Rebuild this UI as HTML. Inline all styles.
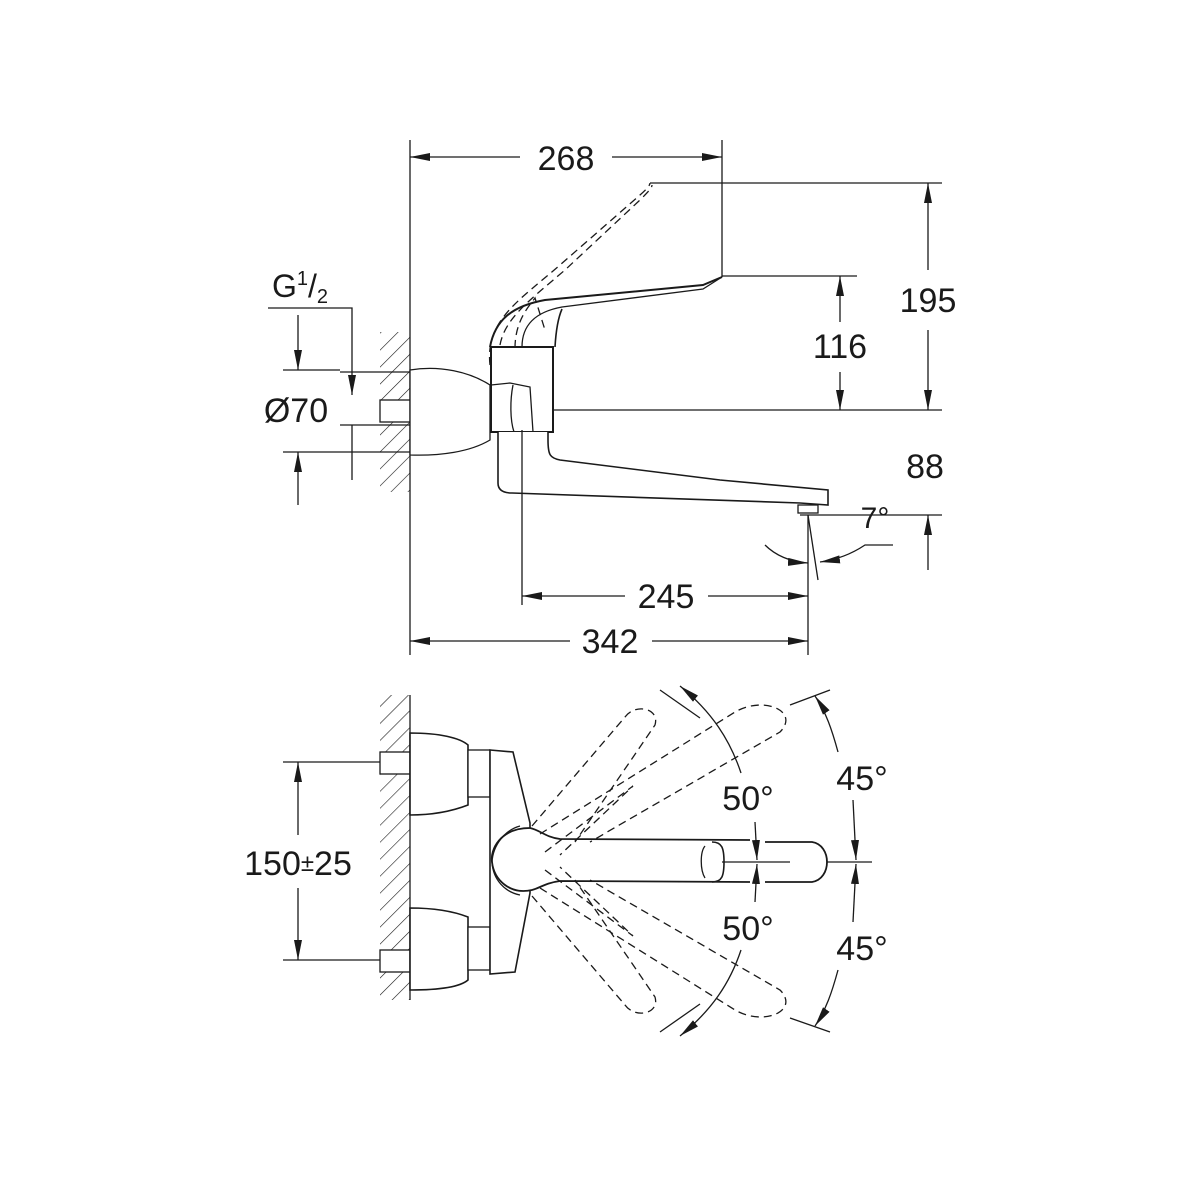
<!DOCTYPE html>
<html><head><style>html,body{margin:0;padding:0;background:#fff}svg{display:block}</style></head>
<body>
<svg width="1200" height="1200" viewBox="0 0 1200 1200" xmlns="http://www.w3.org/2000/svg" font-family="Liberation Sans, Arial, sans-serif" fill="none" stroke="#1a1a1a" stroke-width="1.3">
<defs>
<marker id="a" viewBox="0 0 20 8" refX="20" refY="4" markerWidth="20" markerHeight="8" orient="auto-start-reverse" markerUnits="userSpaceOnUse"><path d="M0,0 L20,4 L0,8 Z" fill="#1a1a1a" stroke="none"/></marker>
<pattern id="h" width="12" height="12" patternUnits="userSpaceOnUse" patternTransform="rotate(45)"><line x1="0" y1="0" x2="0" y2="12" stroke="#1a1a1a" stroke-width="1.2"/></pattern>
</defs>
<!-- TOP VIEW -->
<rect x="380" y="332" width="30" height="160" fill="url(#h)" stroke="none"/>
<line x1="410" y1="140" x2="410" y2="655"/>
<line x1="410" y1="157" x2="520" y2="157" marker-start="url(#a)"/>
<line x1="612" y1="157" x2="722" y2="157" marker-end="url(#a)"/>
<line x1="722" y1="140" x2="722" y2="277"/>
<line x1="650" y1="183" x2="942" y2="183"/>
<line x1="722" y1="276" x2="857" y2="276"/>
<line x1="410" y1="410" x2="942" y2="410"/>
<line x1="800" y1="515" x2="942" y2="515"/>
<line x1="928" y1="183" x2="928" y2="270" marker-start="url(#a)"/>
<line x1="928" y1="330" x2="928" y2="410" marker-end="url(#a)"/>
<line x1="840" y1="276" x2="840" y2="322" marker-start="url(#a)"/>
<line x1="840" y1="372" x2="840" y2="410" marker-end="url(#a)"/>
<line x1="928" y1="570" x2="928" y2="515" marker-end="url(#a)"/>
<polyline points="268,308 352,308 352,395" marker-end="url(#a)"/>
<line x1="340" y1="372" x2="410" y2="372"/>
<line x1="340" y1="425" x2="410" y2="425"/>
<line x1="352" y1="425" x2="352" y2="480"/>
<line x1="283" y1="370" x2="340" y2="370"/>
<line x1="283" y1="452" x2="410" y2="452"/>
<line x1="298" y1="315" x2="298" y2="370" marker-end="url(#a)"/>
<line x1="298" y1="505" x2="298" y2="452" marker-end="url(#a)"/>
<rect x="380" y="400" width="30" height="22" fill="#fff"/>
<path d="M410,370 C440,365 470,372 490,385 L490,440 C470,452 440,456 410,455 Z" fill="#fff"/>
<path d="M490,365 C485,320 520,300 560,265 L640,195 C648,188 650,185 650,183" stroke-dasharray="8,5"/>
<path d="M500,345 C505,318 530,300 565,270 L640,200 C648,192 652,188 652,185" stroke-dasharray="8,5"/>
<path d="M515,348 C515,320 530,305 535,298 L545,330" stroke-dasharray="8,5"/>
<path d="M490,347 C495,320 512,306 545,300 L703,285 L722,277" stroke-width="2"/>
<path d="M522,347 C522,325 535,312 562,307 L703,289 L722,277"/>
<path d="M562,309 C558,318 556,330 555,347" stroke-width="1.6"/>
<rect x="491" y="347" width="62" height="85" fill="#fff" stroke-width="2"/>
<path d="M491,385 L510,383 L530,387 L533,432"/>
<path d="M513,385 C510,400 510,420 514,432"/>
<path d="M498,432 L498,483 C498,490 503,493 512,493 L800,503 L828,505 L828,490 L720,480 L560,460 C550,458 548,455 548,440 L548,432" fill="#fff" stroke-width="1.6"/>
<rect x="798" y="505" width="20" height="8"/>
<line x1="522" y1="430" x2="522" y2="605"/>
<line x1="808" y1="515" x2="808" y2="655"/>
<line x1="808" y1="515" x2="818" y2="580"/>
<path d="M765,545 C775,555 790,562 808,563" marker-end="url(#a)"/>
<path d="M893,545 L865,545 C850,555 835,560 820,562" marker-end="url(#a)"/>
<line x1="522" y1="596" x2="625" y2="596" marker-start="url(#a)"/>
<line x1="708" y1="596" x2="808" y2="596" marker-end="url(#a)"/>
<line x1="410" y1="641" x2="570" y2="641" marker-start="url(#a)"/>
<line x1="652" y1="641" x2="808" y2="641" marker-end="url(#a)"/>
<g fill="#1a1a1a" stroke="none" font-size="34" text-anchor="middle">
<text x="566" y="170">268</text>
<text x="928" y="312">195</text>
<text x="840" y="358">116</text>
<text x="925" y="478">88</text>
<text x="875" y="528" font-size="30">7°</text>
<text x="666" y="608">245</text>
<text x="610" y="653">342</text>
<text x="296" y="422">Ø70</text>
<text x="300" y="297" font-size="32">G<tspan font-size="20" dy="-12">1</tspan><tspan dy="12">/</tspan><tspan font-size="20" dy="6">2</tspan></text>
</g>
<!-- BOTTOM VIEW -->
<rect x="380" y="695" width="30" height="305" fill="url(#h)" stroke="none"/>
<line x1="410" y1="695" x2="410" y2="1000"/>
<line x1="283" y1="762" x2="380" y2="762"/>
<line x1="283" y1="960" x2="380" y2="960"/>
<line x1="298" y1="762" x2="298" y2="835" marker-start="url(#a)"/>
<line x1="298" y1="888" x2="298" y2="960" marker-end="url(#a)"/>
<rect x="380" y="752" width="30" height="22" fill="#fff"/>
<rect x="380" y="950" width="30" height="22" fill="#fff"/>
<path d="M410,733 C440,733 460,738 468,745 L468,805 C450,812 430,815 410,815 Z" fill="#fff" stroke-width="1.6"/>
<path d="M410,908 C430,908 450,910 468,917 L468,980 C460,987 440,990 410,990 Z" fill="#fff" stroke-width="1.6"/>
<rect x="468" y="750" width="22" height="47" fill="#fff"/>
<rect x="468" y="927" width="22" height="43" fill="#fff"/>
<path d="M490,750 L513,752 L530,823 L530,893 L515,972 L490,974 Z" fill="#fff" stroke-width="1.6"/>
<!-- handle -->
<path d="M530,828 C500,828 490,850 492,862 C494,880 510,895 532,890 C540,888 545,883 560,881 L750,882 L750,840 L560,839 C545,837 540,830 530,828 Z" fill="#fff" stroke="none"/>
<path d="M530,828 C500,828 490,850 492,862 C494,880 510,895 532,890 C540,888 545,883 560,881 L750,882" stroke-width="1.8"/>
<path d="M530,828 C540,830 545,837 560,839 L750,840" stroke-width="1.8"/>
<path d="M520,826 C505,830 493,845 492,862 C493,880 505,892 520,895"/>
<path d="M712,842 C722,842 724,848 724,862 C724,876 722,882 712,882" stroke-width="1.6"/>
<path d="M705,846 C700,852 700,870 705,878"/>
<path d="M765,842 L812,842 C832,845 832,879 812,882 L765,882" stroke-width="1.8"/>
<line x1="722" y1="862" x2="790" y2="862"/>
<line x1="827" y1="862" x2="872" y2="862"/>
<g stroke-dasharray="8,5">
<path d="M532,826 L625,717 C635,703 660,708 655,725 L575,842"/>
<path d="M540,834 L735,712 C765,695 800,712 780,732 L590,842"/>
<path d="M532,896 L625,1005 C635,1019 660,1014 655,997 L575,880"/>
<path d="M540,888 L735,1010 C765,1027 800,1010 780,990 L590,880"/>
<path d="M545,852 L633,786 L560,855"/>
<path d="M545,870 L633,936 L560,867"/>
</g>
<line x1="660" y1="690" x2="700" y2="718"/>
<line x1="660" y1="1032" x2="700" y2="1004"/>
<line x1="790" y1="705" x2="830" y2="690"/>
<line x1="790" y1="1018" x2="830" y2="1032"/>
<path d="M741,773 C730,740 712,712 680,686" marker-end="url(#a)"/>
<path d="M741,950 C730,983 712,1010 680,1036" marker-end="url(#a)"/>
<line x1="755" y1="822" x2="757" y2="860" marker-end="url(#a)"/>
<line x1="755" y1="902" x2="757" y2="864" marker-end="url(#a)"/>
<path d="M838,752 C832,730 826,712 815,696" marker-end="url(#a)"/>
<path d="M838,970 C832,992 826,1010 815,1026" marker-end="url(#a)"/>
<line x1="853" y1="800" x2="856" y2="860" marker-end="url(#a)"/>
<line x1="853" y1="922" x2="856" y2="864" marker-end="url(#a)"/>
<g fill="#1a1a1a" stroke="none" font-size="34" text-anchor="middle">
<text x="298" y="875">150<tspan font-size="24" dy="-4">±</tspan><tspan dy="4">25</tspan></text>
<text x="748" y="810">50°</text>
<text x="748" y="940">50°</text>
<text x="862" y="790">45°</text>
<text x="862" y="960">45°</text>
</g>
</svg>
</body></html>
